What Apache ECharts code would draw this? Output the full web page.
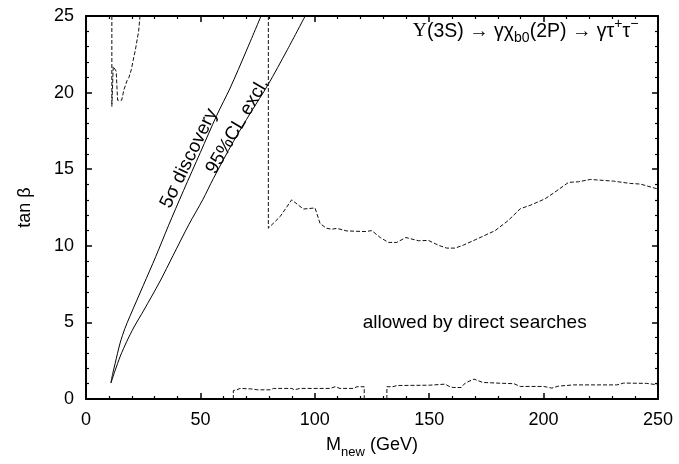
<!DOCTYPE html>
<html>
<head>
<meta charset="utf-8">
<script src="https://cdn.jsdelivr.net/npm/echarts@6/dist/echarts.min.js"></script>
<style>html,body{margin:0;padding:0;background:#fff;}#c{width:679px;height:464px;}</style>
</head>
<body>
<div id="c"></div>
<script>
// ---- data (M_new in GeV, tan beta) ----
const discovery5Sigma = [[10.9,1.05],[11.6,1.6],[12.7,2.3],[14.9,3.65],[17,4.6],[19.2,5.4],[25,7.4],[30.5,9.3],[36,11.3],[42.6,13.6],[50,16.1],[57.1,18.5],[63,20.3],[70,22.7],[76.5,25]];
const exclusion95CL = [[10.9,1.05],[12.7,1.85],[15,2.8],[17.8,3.75],[21,4.7],[25.1,5.75],[32.4,7.7],[38,9.35],[45,11.4],[51,13.0],[55.7,14.4],[64.4,16.8],[72,18.7],[79.5,20.5],[88,22.8],[95.8,25]];
const directTopLeft = [[11.3,25],[11.3,19.1],[11.9,19.1],[11.9,21.7],[12.7,21.7],[13.2,21.4],[13.7,21.4],[13.8,19.5],[15.6,19.5],[16.6,20.2],[18.0,20.8],[18.8,21.0],[19.8,21.5],[20.6,22.1],[21.6,22.8],[22.4,23.5],[23.0,24.0],[23.6,25]];
const directUpper = [[79.7,25],[79.7,11.15],[84.8,11.9],[89.9,13.0],[95,12.4],[100.1,12.47],[102.3,11.46],[105,11.15],[107.4,11.08],[109.6,11.14],[114,10.97],[122,10.93],[124.9,10.99],[128.6,10.54],[132.2,10.22],[135.8,10.22],[139.8,10.54],[145.3,10.33],[149.7,10.35],[154.1,10.03],[157.7,9.85],[161.4,9.85],[165,10.05],[170.1,10.39],[178.8,10.99],[184.7,11.67],[189.8,12.42],[194.1,12.64],[200.7,13.07],[206.5,13.67],[210.9,14.14],[215.3,14.18],[220.4,14.33],[230.6,14.22],[237.9,14.07],[242.3,14.03],[248.4,13.77],[250,13.7]];
const directLowA = [[64.4,0],[64.4,0.55],[66,0.6],[67.3,0.69],[72,0.66],[75,0.6],[80.5,0.6],[82,0.69],[90,0.69],[91,0.6],[93.6,0.69],[106.7,0.69],[108.9,0.8],[111,0.69],[117,0.69],[118.4,0.8],[121.6,0.8],[121.6,0]];
const directLowB = [[131.5,0],[131.5,0.8],[134,0.8],[136,0.88],[150,0.9],[157,0.97],[159,0.8],[160.5,0.75],[164,0.75],[165.8,1.05],[169.6,1.3],[173.4,1.08],[181,1.03],[187,1.0],[189.8,0.82],[200,0.82],[203.6,0.71],[206.5,0.84],[213,0.92],[232,0.92],[235,1.04],[245,1.02],[250,0.92]];
// annotation anchors (data coords) and texts
const labelDiscovery = {pos:[45.0,15.7], text:'5σ discovery'};
const labelExcl = {pos:[66.2,17.8], text:'95%CL excl.'};
const labelAllowed = {pos:[169.9,5.0], text:'allowed by direct searches'};
const labelProcess = {pos:[241.4,24.0]};

const FONT = '"Liberation Sans", Arial, Helvetica, sans-serif';
const chart = echarts.init(document.getElementById('c'), null, {renderer:'canvas'});

function axisCommon(showLabels){
  return {
    type:'value',
    axisLine:{show:true, onZero:false, lineStyle:{color:'#000', width:2}},
    axisTick:{show:true, inside:true, length:6, lineStyle:{color:'#000', width:1.5}},
    minorTick:{show:true, splitNumber:5, length:3, lineStyle:{color:'#000', width:1.2}},
    splitLine:{show:false},
    minorSplitLine:{show:false},
    axisLabel:{show:showLabels, color:'#000', fontSize:18, fontFamily:FONT, margin:12}
  };
}

const dashed = {color:'#111', width:1, type:[4,2]};
const solid = {color:'#000', width:1};

function labelSeries(item, opts){
  return {
    type:'scatter', symbolSize:0, silent:true, z:10, xAxisIndex:0, yAxisIndex:0,
    itemStyle:{opacity:1},
    data:[item.pos],
    label:Object.assign({show:true, position:'inside', color:'#000', opacity:1, fontSize:19, fontFamily:FONT}, opts)
  };
}

chart.setOption({
  animation:false,
  backgroundColor:'#fff',
  grid:{left:86, right:21, top:16, bottom:59, containLabel:false},
  xAxis:[
    Object.assign(axisCommon(true), {position:'bottom', min:0, max:250, interval:50,
      name:'{m|M}{s|new}{m| (GeV)}', nameLocation:'middle', nameGap:32,
      nameTextStyle:{rich:{
        m:{fontSize:18, fontFamily:FONT, color:'#000', lineHeight:28, verticalAlign:'middle'},
        s:{fontSize:13, fontFamily:FONT, color:'#000', lineHeight:13, verticalAlign:'bottom'}
      }}}),
    Object.assign(axisCommon(false), {position:'top', min:0, max:250, interval:50})
  ],
  yAxis:[
    Object.assign(axisCommon(true), {position:'left', min:0, max:25, interval:5,
      name:'tan β', nameLocation:'middle', nameGap:52,
      nameTextStyle:{fontSize:18, fontFamily:FONT, color:'#000'}}),
    Object.assign(axisCommon(false), {position:'right', min:0, max:25, interval:5})
  ],
  series:[
    {type:'line', data:discovery5Sigma, smooth:0.3, showSymbol:false, lineStyle:solid, silent:true},
    {type:'line', data:exclusion95CL, smooth:0.3, showSymbol:false, lineStyle:solid, silent:true},
    {type:'line', data:directTopLeft, showSymbol:false, lineStyle:dashed, silent:true},
    {type:'line', data:directUpper, showSymbol:false, lineStyle:dashed, silent:true},
    {type:'line', data:directLowA, showSymbol:false, lineStyle:dashed, silent:true},
    {type:'line', data:directLowB, showSymbol:false, lineStyle:dashed, silent:true},
    labelSeries(labelDiscovery, {formatter:labelDiscovery.text, rotate:64}),
    labelSeries(labelExcl, {formatter:labelExcl.text, rotate:60}),
    labelSeries(labelAllowed, {formatter:labelAllowed.text}),
    labelSeries(labelProcess, {
      position:'left', distance:0,
      formatter:'{y|Υ}{n|(3S) → γχ}{sub|b0}{n|(2P) → γτ}{sup|+}{n|τ}{sup|−}',
      rich:{
        y:{fontSize:19.5, fontFamily:'"Liberation Serif","DejaVu Serif",serif', color:'#000', lineHeight:28, verticalAlign:'middle'},
        n:{fontSize:19.5, fontFamily:FONT, color:'#000', lineHeight:28, verticalAlign:'middle'},
        sub:{fontSize:14, fontFamily:FONT, color:'#000', lineHeight:14, verticalAlign:'bottom'},
        sup:{fontSize:14, fontFamily:FONT, color:'#000', lineHeight:14, verticalAlign:'top'}
      }
    })
  ]
});
</script>
</body>
</html>
